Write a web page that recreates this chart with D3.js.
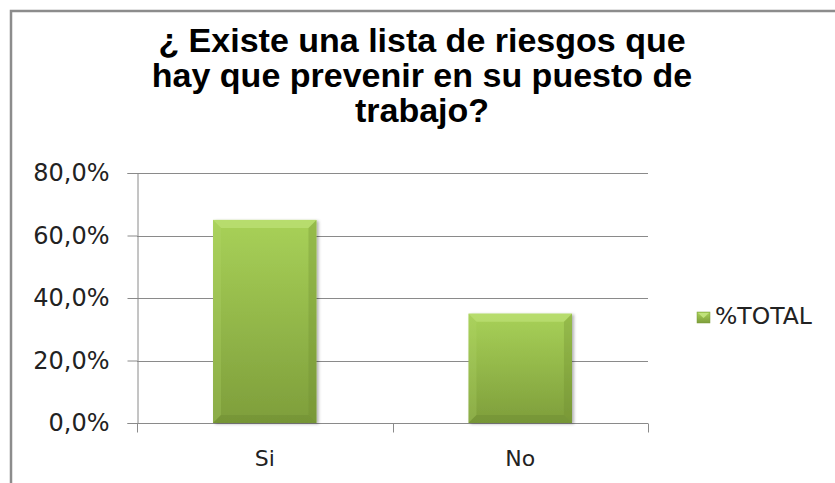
<!DOCTYPE html>
<html>
<head>
<meta charset="utf-8">
<script src="https://cdn.jsdelivr.net/npm/d3@7"></script>
<style>
  body { margin: 0; background: #fff; }
  svg { display: block; }
</style>
</head>
<body>
<div id="chart"></div>
<script>
const categories = ["Si", "No"];
const values = [0.65, 0.35];
const yTicks = [0, 0.2, 0.4, 0.6, 0.8];
const titleLines = ["¿ Existe una lista de riesgos que", "hay que prevenir en su puesto de", "trabajo?"];
const seriesName = "%TOTAL";

const width = 835;
const height = 483;
const plot = { left: 137, right: 648, top: 173, bottom: 423 };

const esLocale = d3.formatLocale({ decimal: ",", thousands: ".", grouping: [3], currency: ["", "€"] });
const pct = esLocale.format(".1%");

const svg = d3.select("#chart")
  .append("svg")
  .attr("width", width)
  .attr("height", height);

const defs = svg.append("defs");

// degradado de las barras
const grad = defs.append("linearGradient")
  .attr("id", "barGrad")
  .attr("x1", "0%").attr("x2", "0%")
  .attr("y1", "0%").attr("y2", "100%");
grad.append("stop").attr("offset", "0%").attr("stop-color", "#a8d158");
grad.append("stop").attr("offset", "100%").attr("stop-color", "#7e9e3b");

const shadow = defs.append("filter")
  .attr("id", "shadow")
  .attr("x", "-10%").attr("y", "-10%")
  .attr("width", "130%").attr("height", "130%");
shadow.append("feDropShadow")
  .attr("dx", 2).attr("dy", 1)
  .attr("stdDeviation", 1.5)
  .attr("flood-color", "#000")
  .attr("flood-opacity", 0.3);

// marco
svg.append("path")
  .attr("d", `M11,${height} L11,11 L${width},11`)
  .attr("fill", "none")
  .attr("stroke", "#8c8c8c")
  .attr("stroke-width", 2.5);

// titulo
const title = svg.append("text")
  .attr("text-anchor", "middle")
  .style("font-family", "'Liberation Sans', Arial, sans-serif")
  .style("font-weight", "bold")
  .style("font-size", "34px")
  .attr("fill", "#000");
titleLines.forEach((t, i) => {
  title.append("tspan")
    .attr("x", 422)
    .attr("y", 52 + i * 35)
    .text(t);
});

const x = d3.scaleBand()
  .domain(categories)
  .range([plot.left, plot.right])
  .paddingInner(0.595)
  .paddingOuter(0.2975);

const y = d3.scaleLinear()
  .domain([0, 0.8])
  .range([plot.bottom, plot.top]);

// lineas de cuadricula
svg.append("g")
  .selectAll("line")
  .data(yTicks.filter(d => d > 0))
  .enter()
  .append("line")
  .attr("x1", plot.left)
  .attr("x2", plot.right)
  .attr("y1", d => Math.round(y(d)) + 0.5)
  .attr("y2", d => Math.round(y(d)) + 0.5)
  .attr("stroke", "#8a8a8a")
  .attr("stroke-width", 1);

// eje Y
const yAxis = svg.append("g")
  .attr("transform", `translate(${plot.left + 0.5},0)`)
  .call(d3.axisLeft(y).tickValues(yTicks).tickFormat(pct).tickSize(10).tickPadding(18));
yAxis.select(".domain").attr("stroke", "#8a8a8a");
yAxis.selectAll(".tick line").attr("stroke", "#8a8a8a");
yAxis.selectAll(".tick text")
  .attr("fill", "#222")
  .style("font-family", "'DejaVu Sans', Verdana, sans-serif")
  .style("font-size", "24px");

// eje X
const xAxis = svg.append("g")
  .attr("transform", `translate(0,${plot.bottom + 0.5})`);
xAxis.append("line")
  .attr("x1", plot.left).attr("x2", plot.right)
  .attr("stroke", "#8a8a8a");
const xEdges = [plot.left, (plot.left + plot.right) / 2, plot.right];
xAxis.selectAll(".xt")
  .data(xEdges)
  .enter()
  .append("line")
  .attr("class", "xt")
  .attr("x1", d => Math.round(d) + 0.5)
  .attr("x2", d => Math.round(d) + 0.5)
  .attr("y1", 0).attr("y2", 9)
  .attr("stroke", "#8a8a8a");
xAxis.selectAll(".xl")
  .data(categories)
  .enter()
  .append("text")
  .attr("class", "xl")
  .attr("x", d => x(d) + x.bandwidth() / 2)
  .attr("y", 42)
  .attr("text-anchor", "middle")
  .attr("fill", "#222")
  .style("font-family", "'DejaVu Sans', Verdana, sans-serif")
  .style("font-size", "22px")
  .text(d => d);

// barras con bisel
const bev = 8;
const bars = svg.append("g")
  .selectAll("g")
  .data(categories.map((c, i) => ({ c, v: values[i] })))
  .enter()
  .append("g")
  .attr("filter", "url(#shadow)");

bars.each(function(d) {
  const g = d3.select(this);
  const x0 = x(d.c), x1 = x0 + x.bandwidth();
  const y0 = y(d.v), y1 = y(0);
  g.append("rect")
    .attr("x", x0).attr("y", y0)
    .attr("width", x1 - x0).attr("height", y1 - y0)
    .attr("fill", "url(#barGrad)");
  // arriba
  g.append("path")
    .attr("d", `M${x0},${y0} L${x1},${y0} L${x1 - bev},${y0 + bev} L${x0 + bev},${y0 + bev} Z`)
    .attr("fill", "#c2e47c").attr("opacity", 0.6);
  // izquierda
  g.append("path")
    .attr("d", `M${x0},${y0} L${x0 + bev},${y0 + bev} L${x0 + bev},${y1 - bev} L${x0},${y1} Z`)
    .attr("fill", "#b5d86c").attr("opacity", 0.25);
  // derecha
  g.append("path")
    .attr("d", `M${x1},${y0} L${x1},${y1} L${x1 - bev},${y1 - bev} L${x1 - bev},${y0 + bev} Z`)
    .attr("fill", "#6d8a30").attr("opacity", 0.3);
  // abajo
  g.append("path")
    .attr("d", `M${x0},${y1} L${x0 + bev},${y1 - bev} L${x1 - bev},${y1 - bev} L${x1},${y1} Z`)
    .attr("fill", "#607c29").attr("opacity", 0.25);
});

// leyenda
const legend = svg.append("g").attr("transform", "translate(697,312)");
legend.append("rect")
  .attr("width", 13).attr("height", 11)
  .attr("fill", "url(#barGrad)")
  .attr("stroke", "#7a9a3a").attr("stroke-width", 0.5);
legend.append("path")
  .attr("d", "M1,1 L12,1 L6.5,6 Z")
  .attr("fill", "#c0e27a");
legend.append("text")
  .attr("x", 18)
  .attr("y", 12)
  .attr("fill", "#222")
  .style("font-family", "'DejaVu Sans', Verdana, sans-serif")
  .style("font-size", "23.5px")
  .text(seriesName);
</script>
</body>
</html>
